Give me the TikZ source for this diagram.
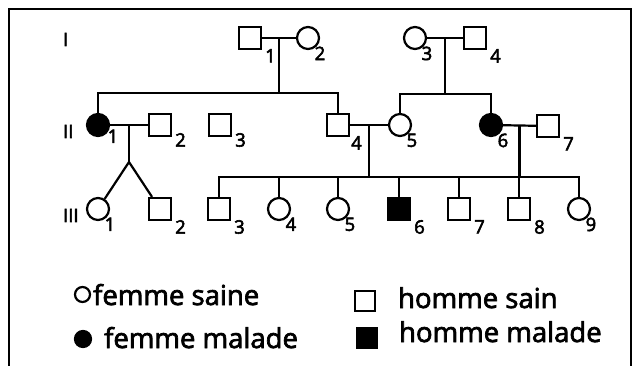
\documentclass[tikz,border=0pt]{standalone}
\usepackage{fontspec}
\setmainfont{Open Sans}[FakeBold=2.5]
\newfontfamily\numfont{Open Sans}[FakeBold=3]
\usetikzlibrary{calc}
\begin{document}
\begin{tikzpicture}[x=1pt,y=-1pt,line width=2.2pt,
  sq/.style={draw,line width=2.2pt,rectangle,minimum size=22pt,inner sep=0pt},
  ci/.style={draw,line width=2.2pt,circle,minimum size=22pt,inner sep=0pt},
  sqa/.style={sq,fill=black},
  cia/.style={ci,fill=black},
  num/.style={font=\numfont\fontsize{18.5}{18.5}\selectfont,inner sep=0pt,anchor=north west},
  numsq/.style={num,xshift=2pt,yshift=2pt},
  numci/.style={num,xshift=-3pt,yshift=1pt},
  gen/.style={font=\numfont\fontsize{18.5}{18.5}\selectfont,inner sep=0pt,anchor=base west},
  leg/.style={font=\fontsize{27.5}{27.5}\selectfont,inner sep=0pt,anchor=base west}]
\useasboundingbox (0,0) rectangle (634,366);
\fill[white] (0,0) rectangle (634,366);
\draw[line width=2.6pt] (9,367) |- (631,9) -- (631,367);

% generation numerals
\node[gen] (gI) at (62,46) {I};
\node[gen] (gII) at (62,138) {II};
\node[gen] (gIII) at (62,222) {III};

% generation I
\node[sq] (I1) at (250,38) {};
\node[ci] (I2) at (308,38) {};
\node[ci] (I3) at (415,38) {};
\node[sq] (I4) at (475,38) {};

% generation II
\node[cia] (II1) at (98,125) {};
\node[sq] (II2) at (160,125) {};
\node[sq] (II3) at (220,125) {};
\node[sq] (II4) at (338,125) {};
\node[ci] (II5) at (400,125) {};
\node[cia] (II6) at (491,125) {};
\node[sq] (II7) at (548,126) {};

% generation III
\node[ci] (III1) at (98,209) {};
\node[sq] (III2) at (160,209) {};
\node[sq] (III3) at (219,209) {};
\node[ci] (III4) at (279,209) {};
\node[ci] (III5) at (338,209) {};
\node[sqa] (III6) at (399,209) {};
\node[sq] (III7) at (459,209) {};
\node[sq] (III8) at (519,209) {};
\node[ci] (III9) at (579,209) {};

% labels
\node[numsq] (lI1) at (I1.south east) {1};
\node[numci] (lI2) at (I2.south east) {2};
\node[numci] (lI3) at (I3.south east) {3};
\node[numsq] (lI4) at (I4.south east) {4};
\node[num,yshift=5pt] (lII1) at (II1.south east) {1};
\node[numsq,yshift=3pt] (lII2) at (II2.south east) {2};
\node[numsq,yshift=3pt] (lII3) at (II3.south east) {3};
\node[numsq,xshift=-2pt] (lII4) at (II4.south east) {4};
\node[numci] (lII5) at (II5.south east) {5};
\node[numci] (lII6) at (II6.south east) {6};
\node[numsq] (lII7) at (II7.south east) {7};
\node[numci] (lIII1) at (III1.south east) {1};
\node[numsq] (lIII2) at (III2.south east) {2};
\node[numsq] (lIII3) at (III3.south east) {3};
\node[numci] (lIII4) at (III4.south east) {4};
\node[numci] (lIII5) at (III5.south east) {5};
\node[numsq] (lIII6) at (III6.south east) {6};
\node[numsq] (lIII7) at (III7.south east) {7};
\node[numsq] (lIII8) at (III8.south east) {8};
\node[numci] (lIII9) at (III9.south east) {9};

% couples and descent
\draw (I1) -- (I2);
\coordinate (m1) at ($(I1.east)!0.5!(I2.west)$);
\coordinate (d1) at ($(m1)+(0,55)$);
\draw (m1) -- (d1);
\draw (II1) |- (d1) -| (II4);

\draw (I3) -- (I4);
\coordinate (m2) at ($(I3.east)!0.5!(I4.west)$);
\coordinate (d2) at ($(m2)+(0,56)$);
\draw (m2) -- (d2);
\draw (II5) |- (d2) -| (II6);

\draw (II1) -- (II2);
\coordinate (m3) at ($(II1.east)!0.5!(II2.west)$);
\coordinate (ap) at ($(m3)+(0,37)$);
\draw (m3) -- (ap);
\draw (ap) -- (III1);
\draw (ap) -- (III2);

\draw (II4) -- (II5);
\coordinate (m4) at ($(II4.east)!0.5!(II5.west)$);
\coordinate (d4) at ($(m4)+(0,52)$);
\draw (m4) -- (d4);

\draw (II6) -- (II7);
\coordinate (m5) at ($(II6.east)!0.5!(II7.west)$);
\coordinate (d5) at ($(m5)+(0,52)$);
\draw (m5) -- (d5);

\draw (III3) |- (d4) -| (III9);
\foreach \n in {III4,III5,III6,III7,III8}
  \draw (\n) -- (\n |- d4);

% legend
\node[ci,minimum size=15pt] (L1) at (82.5,294.5) {};
\node[leg] (T1) at (92,305) {femme saine};
\node[cia,minimum size=16pt] (L2) at (83,339) {};
\node[leg] (T2) at (103,348) {femme malade};
\node[sq,minimum size=20.5pt] (L3) at (365,301) {};
\node[leg] (T3) at (397,308) {homme sain};
\node[sqa,minimum size=19.5pt] (L4) at (367,338) {};
\node[leg] (T4) at (398,342) {homme malade};
\end{tikzpicture}
\end{document}
